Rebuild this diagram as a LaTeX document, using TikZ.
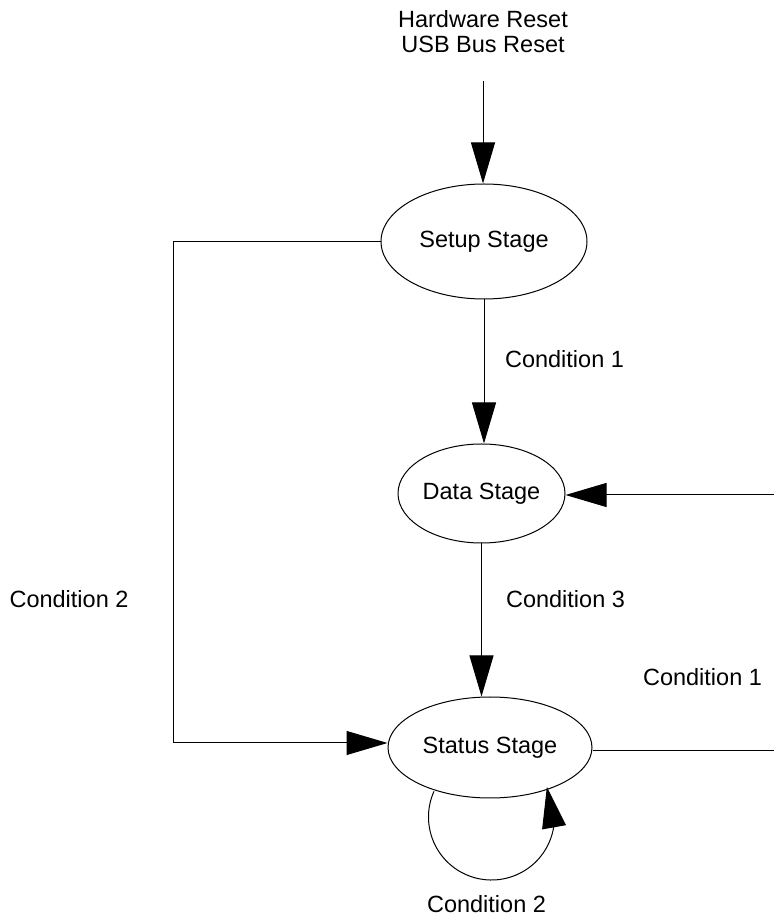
\documentclass[tikz,border=0pt]{standalone}
\usepackage{fontspec}
\setmainfont{Liberation Sans}
\usetikzlibrary{shapes.geometric,arrows.meta,bending}
\begin{document}
\begin{tikzpicture}[x=1pt,y=1pt,
  every node/.style={font=\fontsize{23.5}{25}\selectfont, inner sep=0pt},
  stage/.style={ellipse, draw, line width=1pt},
  conn/.style={line width=1pt},
  arr/.style={conn, -{Triangle[length=41pt,width=24pt]}},
  lbl/.style={anchor=base}]
\useasboundingbox (0,0) rectangle (774,919);
% texts at top
\node[lbl] (hw) at (483,891) {Hardware Reset};
\node[lbl] (usb) at (483,866) {USB Bus Reset};
% stages
\node[stage, minimum width=206pt, minimum height=115pt] (setup) at (484,677.5) {Setup Stage};
\node[stage, minimum width=167pt, minimum height=99pt] (data) at (481.5,425.5) {Data Stage};
\node[stage, minimum width=204pt, minimum height=101pt] (status) at (490,171.5) {Status Stage};
% coordinates
\coordinate (in) at (483,838);
\coordinate (lc) at (173,176);
\coordinate (rin) at (774,424);
\coordinate (rout) at (774,168.5);
\coordinate (loopc) at (491.5,102);
% connectors
\draw[arr] (in) -- (in |- setup.north);
\draw[arr] (setup.south) -- (setup.south |- data.north);
\draw[arr] (data.south) -- (data.south |- status.north);
\draw[arr] (setup.west) -| (lc) -- (lc -| status.west);
\draw[arr] (rin) -- (rin -| data.east);
\draw[conn] (rout -| status.east) -- (rout);
\draw[arr] (loopc) ++(156:63) arc[start angle=156, end angle=388.5, radius=63];
% labels
\node[lbl] (c1a) at (564.5,551) {Condition 1};
\node[lbl] (c2a) at (69,311) {Condition 2};
\node[lbl] (c3) at (565.5,311) {Condition 3};
\node[lbl] (c1b) at (702.5,233) {Condition 1};
\node[lbl] (c2b) at (486.5,6) {Condition 2};
\end{tikzpicture}
\end{document}
